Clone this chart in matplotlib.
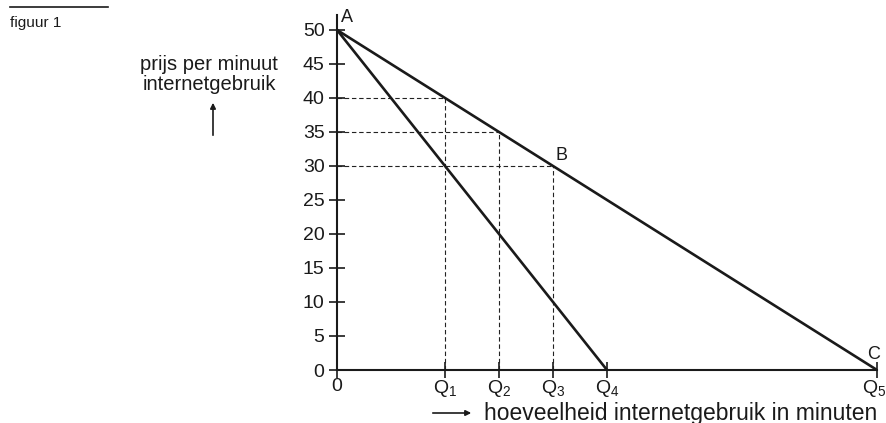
import matplotlib
matplotlib.use('Agg')
import matplotlib.pyplot as plt
import matplotlib.transforms as mtransforms
from matplotlib.lines import Line2D
from matplotlib.patches import FancyArrowPatch

plt.rcParams['font.family'] = ['Liberation Sans', 'DejaVu Sans']
plt.rcParams['mathtext.fontset'] = 'custom'
plt.rcParams['mathtext.rm'] = 'Liberation Sans'
plt.rcParams['mathtext.it'] = 'Liberation Sans'

# ── data ─────────────────────────────────────────────
Q_POS = [0, 2, 3, 4, 5, 10]
Q_LABELS = ['0', r'Q$_{\mathrm{1}}$', r'Q$_{\mathrm{2}}$', r'Q$_{\mathrm{3}}$',
            r'Q$_{\mathrm{4}}$', r'Q$_{\mathrm{5}}$']
Y_TICKS = [0, 5, 10, 15, 20, 25, 30, 35, 40, 45, 50]

# two demand lines: A -> Q4 and A -> C (Q5)
LINE1_X = [0, 5]
LINE1_Y = [50, 0]
LINE2_X = [0, 10]
LINE2_Y = [50, 0]

# dashed helper lines (quantity, price)
DASH_Q = [2, 3, 4]
DASH_P = [40, 35, 30]

INK = '#1a1a1a'

fig = plt.figure(figsize=(8.86, 4.23), dpi=100)
ax = fig.add_axes([337 / 886, 53 / 423, 540 / 886, 355 / 423])
ax.set_xlim(0, 10)
ax.set_ylim(0, 52.2)

# dashed guides
for q, p in zip(DASH_Q, DASH_P):
    ax.plot([0, q], [p, p], color='#222222', lw=0.8, ls=(0, (4, 2.5)))
    ax.plot([q, q], [0, p], color='#222222', lw=0.8, ls=(0, (4, 2.5)))

ax.plot(LINE1_X, LINE1_Y, color=INK, lw=1.9, solid_capstyle='butt')
ax.plot(LINE2_X, LINE2_Y, color=INK, lw=1.9, solid_capstyle='butt')

# axes style
for s in ['top', 'right']:
    ax.spines[s].set_visible(False)
for s in ['left', 'bottom']:
    ax.spines[s].set_linewidth(1.5)
    ax.spines[s].set_color(INK)
ax.spines['bottom'].set_bounds(0, 10)

ax.set_yticks(Y_TICKS)
ax.set_yticklabels([str(v) for v in Y_TICKS])
ax.set_xticks(Q_POS)
ax.set_xticklabels(Q_LABELS)
ax.tick_params(axis='y', direction='inout', length=12, width=1.2,
               labelsize=14, pad=3, colors=INK)
ax.tick_params(axis='x', direction='inout', length=11, width=1.2,
               labelsize=14, pad=0, colors=INK)
ax.patch.set_visible(False)

# nudge Q5 label so it stays inside the canvas
q5 = ax.get_xticklabels()[-1]
q5.set_transform(q5.get_transform() + mtransforms.ScaledTranslation(-3 / 100, 0, fig.dpi_scale_trans))

# point labels
ax.annotate('A', (0, 50), xytext=(3, 6), textcoords='offset points',
            fontsize=13, color=INK)
ax.annotate('B', (4, 30), xytext=(2, 4), textcoords='offset points',
            fontsize=13, color=INK)
ax.annotate('C', (10, 0), xytext=(-7, 8), textcoords='offset points',
            fontsize=13, color=INK)

# axis captions
fig.text(209 / 886, 1 - 64 / 423, 'prijs per minuut', ha='center', va='center',
         fontsize=14.5, color=INK)
fig.text(209 / 886, 1 - 84 / 423, 'internetgebruik', ha='center', va='center',
         fontsize=14.5, color=INK)
fig.add_artist(FancyArrowPatch(
    (213 / 886, 1 - 138 / 423), (213 / 886, 1 - 100 / 423),
    transform=fig.transFigure, arrowstyle='-|>', mutation_scale=8,
    lw=1.2, color=INK))

fig.text(484 / 886, 1 - 413 / 423, 'hoeveelheid internetgebruik in minuten',
         ha='left', va='center', fontsize=16.5, color=INK)
fig.add_artist(FancyArrowPatch(
    (430 / 886, 1 - 413 / 423), (474 / 886, 1 - 413 / 423),
    transform=fig.transFigure, arrowstyle='-|>', mutation_scale=8,
    lw=1.2, color=INK))

# header
fig.add_artist(Line2D([10 / 886, 108 / 886], [1 - 7 / 423, 1 - 7 / 423],
                      transform=fig.transFigure, color=INK, lw=1.2))
fig.text(10 / 886, 1 - 23 / 423, 'figuur 1', ha='left', va='center',
         fontsize=11, color=INK)

fig.savefig('out.png', dpi=100)
